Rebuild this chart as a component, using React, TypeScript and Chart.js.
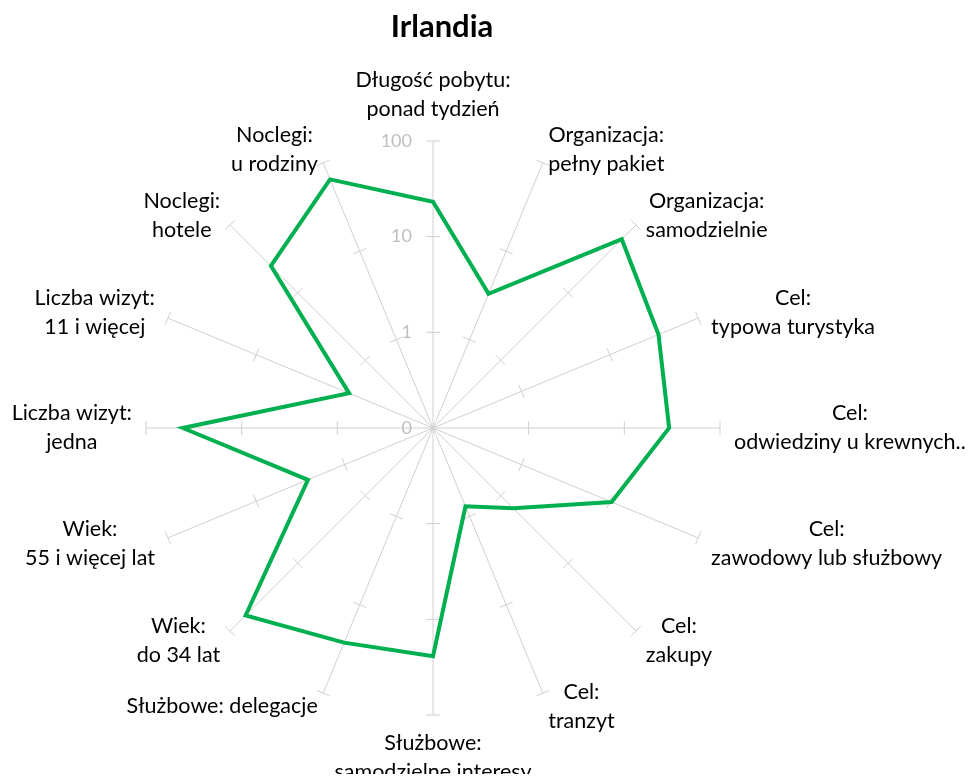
import React, { useEffect, useRef } from "react";
import { Chart, registerables } from "chart.js";

Chart.register(...registerables);

const chartTitle = "Irlandia";
const categories: string[][] = [
  ["Długość pobytu:", "ponad tydzień"],
  ["Organizacja:", "pełny pakiet"],
  ["Organizacja:", "samodzielnie"],
  ["Cel:", "typowa turystyka"],
  ["Cel:", "odwiedziny u krewnych.."],
  ["Cel:", "zawodowy lub służbowy"],
  ["Cel:", "zakupy"],
  ["Cel:", "tranzyt"],
  ["Służbowe:", "samodzielne interesy"],
  ["Służbowe: delegacje"],
  ["Wiek:", "do 34 lat"],
  ["Wiek:", "55 i więcej lat"],
  ["Liczba wizyt:", "jedna"],
  ["Liczba wizyt:", "11 i więcej"],
  ["Noclegi:", "hotele"],
  ["Noclegi:", "u rodziny"],
];
const values = [23.2, 3.3, 61.7, 35.6, 29.4, 10.5, 1.54, 0.77, 24.3, 26.8, 58.9, 2.6, 41.2, 0.89, 24.9, 65];
const tickValues = [0.1, 1, 10, 100];
const tickLabels = ["0", "1", "10", "100"];

const FONT = "Lato, 'Noto Sans', sans-serif";
const LABEL_SIZE = 21.5;
const LINE_H = 29;

const overlayPlugin = {
  id: "overlay",
  beforeDatasetsDraw(chart: any) {
    const scale = chart.scales.r;
    const ctx = chart.ctx;
    ctx.save();
    ctx.strokeStyle = "#d0d0d0";
    ctx.lineWidth = 1;
    const n = chart.data.labels.length;
    for (let i = 0; i < n; i++) {
      const ang = scale.getIndexAngle(i) - Math.PI / 2;
      const px = -Math.sin(ang);
      const py = Math.cos(ang);
      for (const tv of tickValues) {
        const lv = Math.log10(tv);
        if (lv <= scale.min) continue;
        const p = scale.getPointPositionForValue(i, lv);
        ctx.beginPath();
        ctx.moveTo(p.x - 7 * px, p.y - 7 * py);
        ctx.lineTo(p.x + 7 * px, p.y + 7 * py);
        ctx.stroke();
      }
    }
    // tick labels
    ctx.fillStyle = "#bfbfbf";
    ctx.font = `18px ${FONT}`;
    ctx.textAlign = "right";
    ctx.textBaseline = "middle";
    tickValues.forEach((tv, k) => {
      const p = scale.getPointPositionForValue(0, Math.log10(tv));
      ctx.fillText(tickLabels[k], p.x - 21, p.y);
    });
    ctx.restore();
  },
  afterDraw(chart: any) {
    const scale = chart.scales.r;
    const ctx = chart.ctx;
    ctx.save();
    // title
    ctx.fillStyle = "#000";
    ctx.font = `bold 31px ${FONT}`;
    ctx.textAlign = "center";
    ctx.textBaseline = "middle";
    ctx.fillText(chartTitle, scale.xCenter + 9, 19);
    // point labels
    ctx.font = `${LABEL_SIZE}px ${FONT}`;
    const n = categories.length;
    for (let i = 0; i < n; i++) {
      const lines = categories[i];
      const deg = (360 / n) * i;
      const p = scale.getPointPosition(i, scale.drawingArea + 14);
      const w = Math.max(...lines.map((l) => ctx.measureText(l).width));
      const h = lines.length * LINE_H;
      let cx = p.x;
      let cy = p.y;
      if (deg === 0) cy = p.y - h / 2 - 3;
      else if (deg === 180) cy = p.y + h / 2;
      if (deg > 0 && deg < 180) cx = p.x + w / 2;
      else if (deg > 180) cx = p.x - w / 2;
      lines.forEach((l, k) => {
        ctx.fillText(l, cx, cy - h / 2 + LINE_H * (k + 0.5));
      });
    }
    ctx.restore();
  },
};

export default function App() {
  const ref = useRef<HTMLCanvasElement | null>(null);
  useEffect(() => {
    if (!ref.current) return;
    const chart = new Chart(ref.current, {
      type: "radar",
      data: {
        labels: categories.map((c) => c.join(" ")),
        datasets: [
          {
            label: chartTitle,
            data: values.map((v) => Math.log10(v)),
            borderColor: "#00B050",
            backgroundColor: "rgba(0,0,0,0)",
            borderWidth: 4,
            pointRadius: 0,
            pointHoverRadius: 0,
            fill: false,
            tension: 0,
          },
        ],
      },
      options: {
        responsive: false,
        animation: false,
        devicePixelRatio: 1,
        layout: { padding: { left: 138, right: 246, top: 133, bottom: 59 } },
        plugins: {
          legend: { display: false },
          tooltip: { enabled: false },
          title: { display: false },
        },
        scales: {
          r: {
            min: -1,
            max: 2,
            startAngle: 0,
            ticks: { display: false, stepSize: 1 },
            grid: { display: false },
            angleLines: { display: true, color: "#d0d0d0", lineWidth: 1 },
            pointLabels: { display: false },
          },
        },
      },
      plugins: [overlayPlugin],
    });
    return () => chart.destroy();
  }, []);
  return (
    <div style={{ width: 958, height: 766 }}>
      <canvas ref={ref} width={958} height={766} style={{ display: "block" }} />
    </div>
  );
}
